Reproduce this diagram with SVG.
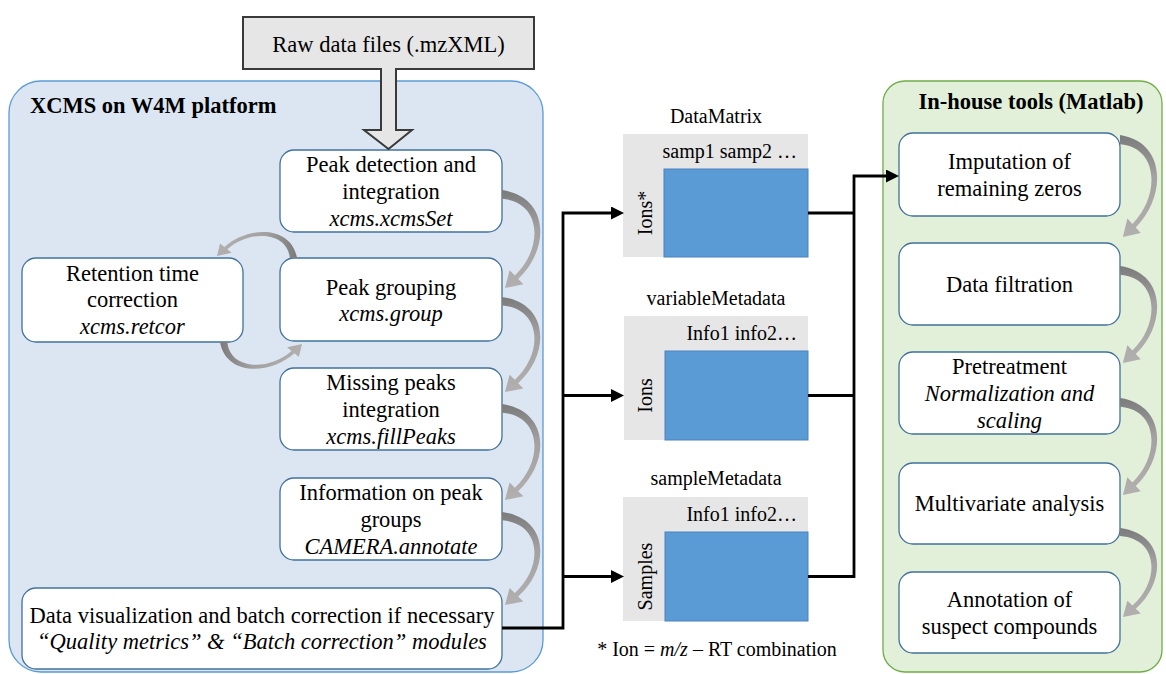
<svg xmlns="http://www.w3.org/2000/svg" xmlns:xlink="http://www.w3.org/1999/xlink" width="1166" height="674" viewBox="0 0 1166 674">
<style>
text{font-family:"Liberation Serif","Times New Roman",serif;fill:#000}
.t{font-size:22.5px;text-anchor:middle}
.c{font-size:20px}
.h{font-size:22.5px;font-weight:bold}
.i{font-style:italic}
.box{fill:#fff;stroke:#41719c;stroke-width:1.3}
.gray{fill:#e7e6e6}
.blue{fill:#5b9bd5;stroke:#4a82bd;stroke-width:1}
.ln{fill:none;stroke:#000;stroke-width:2.8}
.ca{fill:url(#cg)}
</style>
<defs>
<linearGradient id="cg" x1="0" y1="0" x2="0" y2="1">
<stop offset="0" stop-color="#7b7b7b"/>
<stop offset="0.4" stop-color="#a3a1a1"/>
<stop offset="1" stop-color="#b2afaf"/>
</linearGradient>
<path id="ca" d="M0,0 C48,7 47.9,60.4 16.2,90.8 L21.4,96.2 L3,100 L7.6,81.8 L12.8,87.2 C41.6,59.6 40,12 0,9 Z"/>
<marker id="ah" markerUnits="userSpaceOnUse" viewBox="0 0 13 13" refX="0" refY="6.5" markerWidth="13" markerHeight="13" orient="auto">
<path d="M0,0 L13,6.5 L0,13 Z" fill="#000"/>
</marker>
</defs>

<g id="panel-xcms">
<rect x="9" y="81" width="534" height="591" rx="32" fill="#dce6f2" stroke="#5b9bd5" stroke-width="1.3"/>
<text class="h" x="30" y="113">XCMS on W4M platform</text>
</g>

<g id="panel-inhouse">
<rect x="883" y="81" width="279" height="591" rx="22" fill="#e2efd9" stroke="#70ad47" stroke-width="1.3"/>
<text class="h" x="1031" y="109" text-anchor="middle">In-house tools (Matlab)</text>
</g>

<g id="raw-data">
<rect x="243" y="17" width="291" height="52" fill="#e7e6e6" stroke="#3a3a3a" stroke-width="2"/>
<text class="t" x="388.5" y="52">Raw data files (.mzXML)</text>
</g>

<g id="peak-detection">
<rect class="box" x="280" y="150" width="222" height="82" rx="14"/>
<text class="t" x="391" y="172">Peak detection and</text>
<text class="t" x="391" y="199">integration</text>
<text class="t i" x="391" y="226">xcms.xcmsSet</text>
</g>

<g id="retention">
<rect class="box" x="22" y="258" width="221" height="84" rx="14"/>
<text class="t" x="132.5" y="281">Retention time</text>
<text class="t" x="132.5" y="307">correction</text>
<text class="t i" x="132.5" y="334">xcms.retcor</text>
</g>

<g id="peak-grouping">
<rect class="box" x="280" y="258" width="222" height="83" rx="14"/>
<text class="t" x="391" y="295">Peak grouping</text>
<text class="t i" x="391" y="321">xcms.group</text>
</g>

<g id="missing-peaks">
<rect class="box" x="280" y="368" width="222" height="82" rx="14"/>
<text class="t" x="391" y="390">Missing peaks</text>
<text class="t" x="391" y="417">integration</text>
<text class="t i" x="391" y="444">xcms.fillPeaks</text>
</g>

<g id="info-groups">
<rect class="box" x="280" y="478" width="222" height="82" rx="14"/>
<text class="t" x="391" y="500">Information on peak</text>
<text class="t" x="391" y="527">groups</text>
<text class="t i" x="391" y="554">CAMERA.annotate</text>
</g>

<g id="data-vis">
<rect class="box" x="22" y="588" width="480" height="81" rx="14"/>
<text class="t" x="262" y="623">Data visualization and batch correction if necessary</text>
<text class="t i" x="262" y="649">“Quality metrics” &amp; “Batch correction” modules</text>
</g>

<g id="datamatrix">
<text class="c" x="716" y="123" text-anchor="middle">DataMatrix</text>
<rect class="gray" x="623" y="134" width="185" height="123"/>
<rect class="blue" x="664" y="169" width="144" height="88"/>
<text class="c" x="797" y="158" text-anchor="end">samp1 samp2 …</text>
<text class="c" transform="translate(652,213) rotate(-90)" text-anchor="middle">Ions*</text>
</g>

<g id="variable-metadata">
<text class="c" x="716" y="305" text-anchor="middle">variableMetadata</text>
<rect class="gray" x="624" y="316" width="184" height="124"/>
<rect class="blue" x="665" y="351" width="143" height="89"/>
<text class="c" x="797" y="340" text-anchor="end">Info1 info2…</text>
<text class="c" transform="translate(652,395.5) rotate(-90)" text-anchor="middle">Ions</text>
</g>

<g id="sample-metadata">
<text class="c" x="716" y="485" text-anchor="middle">sampleMetadata</text>
<rect class="gray" x="623" y="497" width="185" height="124"/>
<rect class="blue" x="665" y="532" width="143" height="89"/>
<text class="c" x="797" y="521" text-anchor="end">Info1 info2…</text>
<text class="c" transform="translate(652,576.5) rotate(-90)" text-anchor="middle">Samples</text>
</g>

<g id="footnote">
<text class="c" x="717" y="656" text-anchor="middle">* Ion = <tspan class="i">m/z</tspan> – RT combination</text>
</g>

<g id="imputation">
<rect class="box" x="899" y="133" width="221" height="83" rx="14"/>
<text class="t" x="1009.5" y="169">Imputation of</text>
<text class="t" x="1009.5" y="196">remaining zeros</text>
</g>

<g id="filtration">
<rect class="box" x="899" y="243" width="221" height="82" rx="14"/>
<text class="t" x="1009.5" y="292">Data filtration</text>
</g>

<g id="pretreatment">
<rect class="box" x="899" y="352" width="221" height="82" rx="14"/>
<text class="t" x="1009.5" y="374">Pretreatment</text>
<text class="t i" x="1009.5" y="401">Normalization and</text>
<text class="t i" x="1009.5" y="428">scaling</text>
</g>

<g id="multivariate">
<rect class="box" x="899" y="463" width="221" height="81" rx="14"/>
<text class="t" x="1009.5" y="511">Multivariate analysis</text>
</g>

<g id="annotation">
<rect class="box" x="899" y="572" width="221" height="81" rx="14"/>
<text class="t" x="1009.5" y="607">Annotation of</text>
<text class="t" x="1009.5" y="634">suspect compounds</text>
</g>

<g id="connectors">
<path d="M381,68 L381,130 L364,130 L388.5,149 L412,130 L396,130 L396,68" fill="#e7e6e6" stroke="#3a3a3a" stroke-width="2" stroke-linejoin="miter"/>
<path class="ln" d="M502,628 H563 V213 H611" marker-end="url(#ah)"/>
<path class="ln" d="M563,395.5 H611" marker-end="url(#ah)"/>
<path class="ln" d="M563,576.5 H611" marker-end="url(#ah)"/>
<path class="ln" d="M808,213 H854" stroke-width="2.2"/>
<path class="ln" d="M808,395.5 H854" stroke-width="2.2"/>
<path class="ln" d="M808,576.5 H854 V176 H886" marker-end="url(#ah)"/>
<use class="ca" xlink:href="#ca" href="#ca" transform="translate(502,190) scale(1,0.98)"/>
<use class="ca" xlink:href="#ca" href="#ca" transform="translate(502,297) scale(1,0.95)"/>
<use class="ca" xlink:href="#ca" href="#ca" transform="translate(502,404) scale(1,0.96)"/>
<use class="ca" xlink:href="#ca" href="#ca" transform="translate(502,512) scale(1,0.93)"/>
<use class="ca" xlink:href="#ca" href="#ca" transform="translate(297,258) rotate(90) scale(-0.68,0.8)"/>
<use class="ca" xlink:href="#ca" href="#ca" transform="translate(220,342) rotate(-90) scale(-0.7,0.82)"/>
<use class="ca" xlink:href="#ca" href="#ca" transform="translate(1120,135) scale(0.97,1.02)"/>
<use class="ca" xlink:href="#ca" href="#ca" transform="translate(1120,266) scale(0.97,0.97)"/>
<use class="ca" xlink:href="#ca" href="#ca" transform="translate(1120,398) scale(0.97,0.97)"/>
<use class="ca" xlink:href="#ca" href="#ca" transform="translate(1120,528) scale(0.97,0.89)"/>
</g>
</svg>
